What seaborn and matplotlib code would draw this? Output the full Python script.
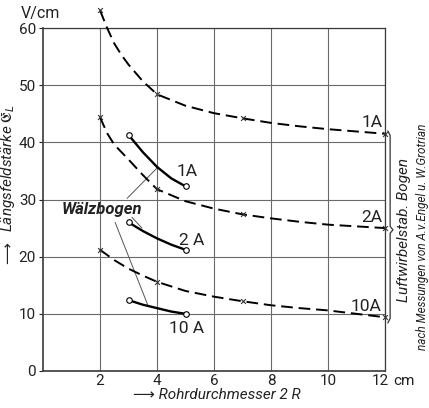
import matplotlib
matplotlib.use("Agg")
import matplotlib.pyplot as plt
import seaborn as sns

# ---------------- data ----------------
# Luftwirbelstabilisierter Bogen (dashed), V/cm vs. tube diameter 2R (cm)
luft_1A_x = [2, 2.25, 2.5, 2.75, 3, 3.5, 4, 5, 6, 7, 8, 9, 10, 11, 12]
luft_1A_y = [63.1, 60.0, 57.3, 55.3, 53.6, 50.7, 48.4, 46.4, 45.1, 44.2, 43.4, 42.8, 42.3, 41.9, 41.5]
luft_2A_x = [2, 2.25, 2.5, 3, 3.5, 4, 5, 6, 7, 8, 9, 10, 11, 12]
luft_2A_y = [44.4, 41.6, 39.6, 37.0, 34.3, 31.8, 29.7, 28.4, 27.4, 26.7, 26.1, 25.6, 25.3, 25.0]
luft_10A_x = [2, 2.5, 3, 3.5, 4, 5, 6, 7, 8, 9, 10, 11, 12]
luft_10A_y = [21.2, 19.4, 17.9, 16.7, 15.6, 14.0, 13.0, 12.2, 11.5, 11.0, 10.6, 10.0, 9.4]
luft_mark_x = [2, 4, 7, 12]   # diameters with measured points (x marks)

# Wälzbogen (solid)
walz_x = [3, 3.5, 4, 4.5, 5]
walz_1A_y = [41.3, 38.3, 35.7, 33.7, 32.3]
walz_2A_y = [26.0, 24.5, 23.2, 22.1, 21.2]
walz_10A_y = [12.4, 11.6, 11.0, 10.4, 10.0]
walz_mark_x = [3, 5]

x_ticks = [2, 4, 6, 8, 10, 12]
x_ticklabels = ["2", "4", "6", "8", "10", "12"]
y_ticks = [0, 10, 20, 30, 40, 50, 60]
y_ticklabels = ["0", "10", "20", "30", "40", "50", "60"]

# annotation geometry (leader lines from "Wälzbogen")
leaders = [((2.95, 30.2), (4.04, 35.7)),
           ((3.12, 26.9), (3.47, 25.0)),
           ((2.53, 26.0), (3.68, 11.5))]
brace_top, brace_tip, brace_bottom = 41.8, 24.7, 8.6

# ---------------- figure ----------------
sns.set_theme(style="white")
plt.rcParams["font.family"] = ["Roboto", "DejaVu Sans"]
plt.rcParams["mathtext.fontset"] = "dejavusans"

fig = plt.figure(figsize=(4.29, 4.08), dpi=100)
ax = fig.add_axes([43 / 429, 1 - 371 / 408, (385 - 43) / 429, (371 - 28) / 408])

ax.set_xlim(0, 12)
ax.set_ylim(0, 60)

ax.set_xticks(x_ticks)
ax.set_yticks(y_ticks)
ax.grid(True, color="#6a6a6a", lw=0.8)
for s in ax.spines.values():
    s.set_color("#3a3a3a")
    s.set_linewidth(0.9)
ax.spines["left"].set_linewidth(1.2)
ax.spines["bottom"].set_linewidth(1.2)

dash = (0, (6.0, 3.0))
luft = [(luft_1A_x, luft_1A_y), (luft_2A_x, luft_2A_y), (luft_10A_x, luft_10A_y)]
for xs, ys in luft:
    sns.lineplot(x=xs, y=ys, ax=ax, color="black", lw=1.4, linestyle=dash,
                 sort=False, estimator=None, clip_on=False, zorder=3)
    my = [ys[xs.index(v)] for v in luft_mark_x]
    sns.scatterplot(x=luft_mark_x, y=my, ax=ax, marker="x", s=12, color="#333333",
                    linewidth=0.8, clip_on=False, zorder=4)

for ys in [walz_1A_y, walz_2A_y, walz_10A_y]:
    sns.lineplot(x=walz_x, y=ys, ax=ax, color="black", lw=1.7,
                 sort=False, estimator=None, zorder=3)
    my = [ys[walz_x.index(v)] for v in walz_mark_x]
    sns.scatterplot(x=walz_mark_x, y=my, ax=ax, marker="o", s=16, color="white",
                    edgecolor="black", linewidth=0.8, zorder=5)

# ticks
ax.set_yticklabels(y_ticklabels)
ax.set_xticklabels(x_ticklabels[:-1] + [""])
ax.tick_params(axis="both", labelsize=11, colors="#222222", pad=2)
ax.tick_params(axis="y", length=3, width=0.8, direction="out", left=True)
ax.tick_params(axis="x", length=0, pad=2)
ax.text(11.85, -1.75, x_ticklabels[-1], fontsize=11, ha="center", va="center", color="#222222")
ax.text(12.3, -1.75, "cm", fontsize=11, ha="left", va="center", color="#222222")

ax.text(-0.1, 62.5, "V/cm", fontsize=11.5, ha="center", va="center", color="#222222")

ax.set_xlabel("")
ax.set_ylabel("")
ax.text(6.1, -4.15, "⟶ Rohrdurchmesser 2 R", fontsize=11, style="italic",
        ha="center", va="center", color="#222222")
ax.text(-1.24, 35.6, r"Längsfeldstärke $\mathfrak{E}_L$", fontsize=11, style="italic",
        rotation=90, ha="center", va="center", color="#222222")
ax.text(-1.24, 20.6, "⟶", fontsize=11, rotation=90, ha="center", va="center",
        color="#222222", family=["DejaVu Sans"])

# curve labels
lab_kw = dict(fontsize=12.5, ha="center", va="center", color="#222222")
ax.text(5.05, 34.9, "1A", **lab_kw)
ax.text(5.2, 22.9, "2 A", **lab_kw)
ax.text(5.05, 7.5, "10 A", **lab_kw)
ax.text(11.55, 43.4, "1A", **lab_kw)
ax.text(11.55, 26.8, "2A", **lab_kw)
ax.text(11.35, 11.3, "10A", **lab_kw)

ax.text(2.07, 28.3, "Wälzbogen", fontsize=12, style="italic", weight="bold",
        ha="center", va="center", color="#222222")
for (x0, y0), (x1, y1) in leaders:
    ax.plot([x0, x1], [y0, y1], color="#555555", lw=0.7, zorder=2)

# brace
bx = 12.18
ax.plot([bx - 0.08, bx, bx, bx + 0.1, bx, bx, bx - 0.08],
        [brace_top + 0.2, brace_top - 0.6, brace_tip + 0.6, brace_tip,
         brace_tip - 0.6, brace_bottom + 0.6, brace_bottom - 0.2],
        color="#333333", lw=0.9, clip_on=False)
ax.text(12.67, 24.6, "Luftwirbelstab. Bogen", fontsize=11, style="italic",
        rotation=90, ha="center", va="center", color="#222222")
ax.text(13.33, 23.5, "nach Messungen von A.v.Engel u. W.Grotrian", fontsize=8.5,
        style="italic", rotation=90, ha="center", va="center", color="#222222")

fig.savefig("out.png", dpi=100)
